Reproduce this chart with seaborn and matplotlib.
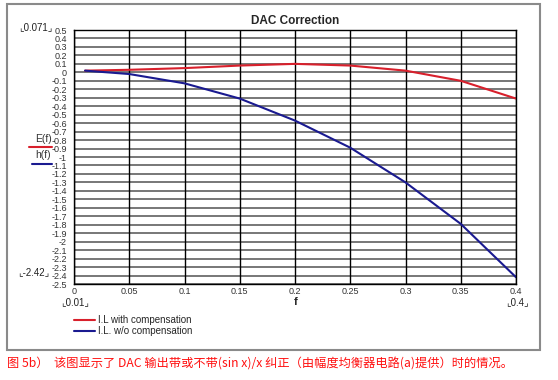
import matplotlib
matplotlib.use("Agg")
import matplotlib.pyplot as plt
import seaborn as sns
import pandas as pd
import numpy as np
from matplotlib.patches import Rectangle
from matplotlib.lines import Line2D

f_vals = [0.01, 0.05, 0.10, 0.15, 0.20, 0.25, 0.30, 0.35, 0.40]
with_comp = [0.02, 0.03, 0.05, 0.08, 0.10, 0.08, 0.02, -0.10, -0.31]
without_comp = [0.02, -0.02, -0.13, -0.31, -0.57, -0.89, -1.30, -1.79, -2.42]
series_names = ["I.L with compensation", "I.L. w/o compensation"]
series_colors = ["#d8202c", "#1a1a90"]
x_ticks = [0, 0.05, 0.1, 0.15, 0.2, 0.25, 0.3, 0.35, 0.4]
x_tick_labels = ["0", "0.05", "0.1", "0.15", "0.2", "0.25", "0.3", "0.35", "0.4"]
y_ticks = [round(v, 1) for v in np.arange(-2.5, 0.51, 0.1)]
caption = "图 5b）  该图显示了 DAC 输出带或不带(sin x)/x 纠正（由幅度均衡器电路(a)提供）时的情况。"

df = pd.DataFrame({
    "f": f_vals * 2,
    "value": with_comp + without_comp,
    "series": [series_names[0]] * len(f_vals) + [series_names[1]] * len(f_vals),
})

sns.set_theme(style="white")
plt.rcParams["font.family"] = ["Liberation Sans", "DejaVu Sans"]

fig = plt.figure(figsize=(5.58, 3.8), dpi=100)
fig.patch.set_facecolor("white")
ax = fig.add_axes([74/558, 1-284/380, 442/558, 254/380])

sns.lineplot(data=df, x="f", y="value", hue="series", palette=series_colors,
             ax=ax, linewidth=1.5, legend=False, sort=True)

ax.set_xlim(0, 0.4)
ax.set_ylim(-2.5, 0.5)
ax.set_xticks(x_ticks)
ax.set_xticklabels(x_tick_labels, fontsize=6.5, color="#333333")
ax.set_yticks(y_ticks)
ax.set_yticklabels([("%g" % v) if abs(v) > 1e-9 else "0" for v in y_ticks], fontsize=6.5, color="#333333")
ax.tick_params(axis="x", length=0, pad=2.5)
ax.tick_params(axis="y", length=0, pad=5)
ax.set_xlabel("")
ax.set_ylabel("")
for y in y_ticks:
    ax.axhline(y, color="#606060", lw=1.2, zorder=0.5)
for x in x_ticks:
    ax.axvline(x, color="black", lw=1.0, zorder=0.6)
for s in ax.spines.values():
    s.set_color("black")
    s.set_linewidth(1.0)
ax.set_title("DAC Correction", fontsize=8.5, fontweight="bold", pad=4)

# outer frame
fig.patches.append(Rectangle((7/558, 1-350/380), 533/558, 346/380, transform=fig.transFigure,
                             fill=False, edgecolor="#8a8a8a", lw=1.5))

# side annotations
fig.text(36/558, 1-27/380, "⌞0.071⌟", fontsize=7, ha="center", va="center", color="#222222")
fig.text(34/558, 1-272/380, "⌞-2.42⌟", fontsize=7, ha="center", va="center", color="#222222")
fig.text(75/558, 1-302/380, "⌞0.01⌟", fontsize=7, ha="center", va="center", color="#222222")
fig.text(517/558, 1-302/380, "⌞0.4⌟", fontsize=7, ha="center", va="center", color="#222222")
fig.text(296/558, 1-302/380, "f", fontsize=8, fontweight="bold", ha="center", va="center")
fig.text(43/558, 1-139/380, "E(f)", fontsize=7.5, ha="center", va="center", color="#333333")
fig.lines.append(Line2D([29/558, 52/558], [1-147.5/380, 1-147.5/380], transform=fig.transFigure,
                        color=series_colors[0], lw=1.5))
fig.text(43/558, 1-155/380, "h(f)", fontsize=7.5, ha="center", va="center", color="#333333")
fig.lines.append(Line2D([32/558, 52/558], [1-164/380, 1-164/380], transform=fig.transFigure,
                        color=series_colors[1], lw=1.5))

handles = [Line2D([], [], color=c, lw=1.5) for c in series_colors]
fig.legend(handles, series_names, loc="upper left", bbox_to_anchor=(74/558, 1-315/380),
           frameon=False, fontsize=7, handlelength=2.2, handletextpad=0.25,
           labelspacing=0.15, borderaxespad=0, borderpad=0)

fig.text(7/558, 1-363/380, caption, fontsize=8.8, color="#ff1010", ha="left", va="center",
         family=["Noto Sans CJK SC", "DejaVu Sans"])

fig.savefig("out.png", dpi=100, facecolor="white")
